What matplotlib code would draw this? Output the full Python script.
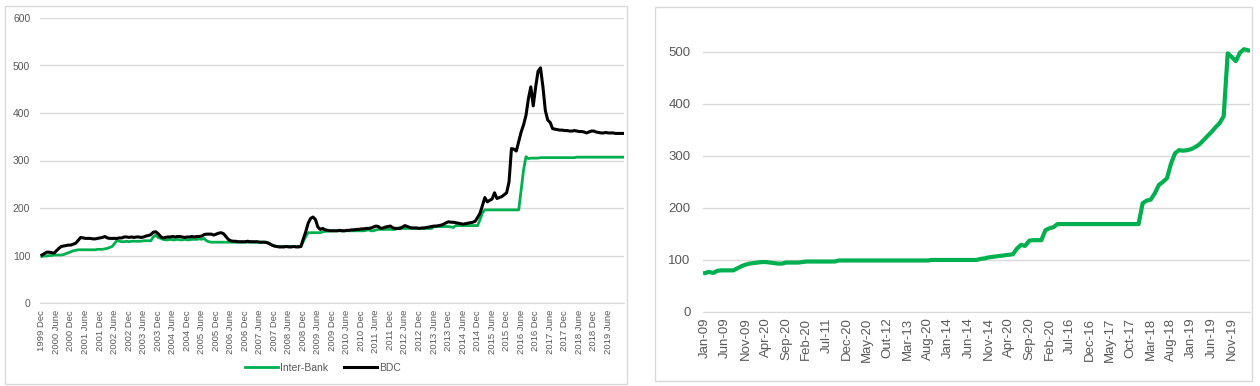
import matplotlib.pyplot as plt
from matplotlib.patches import Rectangle

plt.rcParams['font.family'] = ['Liberation Sans', 'DejaVu Sans']

# left chart: monthly, Dec 1999 .. Dec 2019
bdc = [101,
       104, 107, 107, 106, 105, 110, 115, 119, 120, 121, 122, 122,
       124, 126, 132, 138, 137, 136, 136, 136, 135, 135, 136, 137,
       138, 140, 137, 136, 136, 136, 136, 137, 137, 139, 139, 138,
       139, 138, 139, 139, 138, 139, 141, 142, 144, 149, 150, 146,
       140, 137, 138, 139, 139, 140, 139, 140, 140, 139, 138, 139,
       139, 140, 139, 140, 140, 141, 144, 145, 145, 145, 143, 145,
       147, 148, 146, 140, 134, 131, 130, 130, 129, 129, 129, 129,
       130, 129, 129, 129, 129, 128, 128, 128, 127, 125, 122, 120,
       119, 118, 118, 118, 119, 118, 118, 119, 118, 118, 119, 135,
       150, 168, 178, 181, 176, 160, 155, 157, 154, 153, 152, 152,
       152, 152, 153, 152, 152, 153, 153, 154, 154, 155, 155, 156,
       156, 157, 157, 158, 160, 162, 161, 157, 158, 160, 161, 162,
       158, 157, 157, 157, 160, 163, 161, 159, 158, 158, 158, 157,
       158, 158, 159, 160, 161, 162, 162, 163, 164, 166, 169, 171,
       170, 170, 169, 168, 167, 166, 167, 168, 169, 170, 172, 180,
       189, 205, 222, 213, 216, 219, 232, 220, 222, 224, 228, 232,
       255, 325, 324, 320, 340, 360, 375, 395, 430, 455, 415, 455,
       488, 495, 455, 405, 385, 380, 367, 366, 365, 364, 364, 363,
       363, 362, 362, 363, 362, 361, 361, 360, 358, 360, 362, 362,
       360, 359, 358, 358, 359, 358, 358, 358, 357, 357, 357, 357]

interbank = [98,
             99, 99, 100, 100, 101, 101, 101, 101, 102, 104, 106, 108,
             110, 111, 112, 112, 112, 112, 112, 112, 112, 112, 113, 113,
             113, 114, 115, 117, 119, 125, 132, 130, 129, 129, 130, 129,
             130, 130, 130, 130, 130, 131, 131, 131, 131, 139, 143, 138,
             136, 134, 133, 133, 134, 133, 133, 134, 133, 133, 134, 133,
             133, 134, 134, 134, 135, 134, 136, 131, 129, 128, 128, 128,
             128, 128, 128, 128, 128, 128, 128, 128, 128, 128, 128, 128,
             128, 128, 128, 128, 128, 128, 128, 128, 128, 125, 122, 120,
             119, 119, 119, 119, 119, 119, 119, 119, 119, 119, 119, 130,
             140, 148, 148, 148, 148, 148, 148, 150, 151, 151, 152, 152,
             152, 152, 152, 152, 152, 152, 152, 152, 152, 152, 152, 152,
             152, 153, 154, 152, 152, 154, 155, 155, 155, 155, 155, 155,
             155, 155, 157, 159, 157, 157, 157, 157, 157, 157, 157, 157,
             157, 157, 157, 157, 157, 161, 161, 161, 161, 161, 161, 161,
             160, 159, 163, 163, 163, 163, 163, 163, 163, 163, 163, 163,
             175, 190, 196, 196, 196, 196, 196, 196, 196, 196, 196, 196,
             196, 196, 196, 196, 196, 238, 280, 308, 304, 305, 305, 305,
             305, 306, 306, 306, 306, 306, 306, 306, 306, 306, 306, 306,
             306, 306, 306, 306, 307, 307, 307, 307, 307, 307, 307, 307,
             307, 307, 307, 307, 307, 307, 307, 307, 307, 307, 307, 307]

left_labels = []
for yr in range(1999, 2020):
    if yr > 1999:
        left_labels.append(f"{yr} June")
    if yr < 2019:
        left_labels.append(f"{yr} Dec")

# right chart: monthly, Jan 2009 .. Mar 2020
rate = [75, 77, 75, 79, 80, 80, 80, 80, 84, 88, 91, 93,
        94, 95, 96, 96, 95, 94, 93, 93, 95, 95, 95, 95,
        96, 97, 97, 97, 97, 97, 97, 97, 97, 99, 99, 99,
        99, 99, 99, 99, 99, 99, 99, 99, 99, 99, 99, 99,
        99, 99, 99, 99, 99, 99, 99, 99, 100, 100, 100, 100,
        100, 100, 100, 100, 100, 100, 100, 100, 102, 103, 105, 106,
        107, 108, 109, 110, 111, 122, 129, 127, 137, 138, 138, 138,
        157, 161, 163, 169, 169, 169, 169, 169, 169, 169, 169, 169,
        169, 169, 169, 169, 169, 169, 169, 169, 169, 169, 169, 169,
        209, 214, 216, 228, 244, 250, 257, 285, 305, 311, 310, 311,
        313, 317, 322, 330, 338, 346, 355, 363, 376, 497, 490, 482,
        498, 505, 503]

right_labels = ['Jan-09', 'Jun-09', 'Nov-09', 'Apr-20', 'Sep-20', 'Feb-20',
                'Jul-11', 'Dec-20', 'May-20', 'Out-12', 'Mar-13', 'Aug-20',
                'Jan-14', 'Jun-14', 'Nov-14', 'Apr-20', 'Sep-20', 'Feb-20',
                'Jul-16', 'Dec-16', 'May-17', 'Oct-17', 'Mar-18', 'Aug-18',
                'Jan-19', 'Jun-19', 'Nov-19']

green = '#00B050'
grid = '#d9d9d9'
txt = '#595959'
W, H = 1260, 386

fig = plt.figure(figsize=(12.6, 3.86), dpi=100)

# panel frames
fig.patches.append(Rectangle((5 / W, 1 - 384 / H), 622 / W, 378 / H,
                             transform=fig.transFigure, fill=False,
                             edgecolor=grid, lw=1))
fig.patches.append(Rectangle((655 / W, 1 - 381 / H), 597 / W, 374 / H,
                             transform=fig.transFigure, fill=False,
                             edgecolor=grid, lw=1))

# left
ax1 = fig.add_axes([40 / W, 83 / H, 584 / W, 285 / H])
xs = range(len(bdc))
ax1.plot(xs, interbank, color=green, lw=2, label='Inter-Bank')
ax1.plot(xs, bdc, color='black', lw=2.2, label='BDC')
ax1.set_xlim(-0.8, 240.5)
ax1.set_ylim(0, 600)
ax1.set_yticks(range(0, 601, 100))
ax1.set_xticks(range(0, 6 * len(left_labels), 6))
ax1.set_xticklabels(left_labels, rotation=90, fontsize=6.8, color=txt)
ax1.tick_params(axis='y', labelsize=7.5, labelcolor=txt, length=0, pad=7)
ax1.tick_params(axis='x', length=0, pad=5)
ax1.grid(axis='y', color=grid, lw=1)
ax1.set_axisbelow(True)
for s in ['top', 'right', 'left']:
    ax1.spines[s].set_visible(False)
ax1.spines['bottom'].set_color(grid)
leg = ax1.legend(loc='center', bbox_to_anchor=(0.485, -0.228), ncol=2,
                 frameon=False, fontsize=7.5, handlelength=3.2,
                 handletextpad=0.2, columnspacing=1.5)
for t in leg.get_texts():
    t.set_color(txt)

# right
ax2 = fig.add_axes([703 / W, 74 / H, 547 / W, 281 / H])
ax2.plot(range(len(rate)), rate, color=green, lw=3)
ax2.set_xlim(-0.5, 134.5)
ax2.set_ylim(0, 540)
ax2.set_yticks(range(0, 501, 100))
ax2.set_xticks(range(0, 5 * len(right_labels), 5))
ax2.set_xticklabels(right_labels, rotation=90, fontsize=9.5, color=txt)
ax2.tick_params(axis='y', labelsize=9.5, labelcolor=txt, length=0, pad=9)
ax2.tick_params(axis='x', length=0, pad=4)
ax2.grid(axis='y', color=grid, lw=1)
ax2.set_axisbelow(True)
for s in ['top', 'right', 'left']:
    ax2.spines[s].set_visible(False)
ax2.spines['bottom'].set_color(grid)

fig.savefig('out.png', dpi=100)
